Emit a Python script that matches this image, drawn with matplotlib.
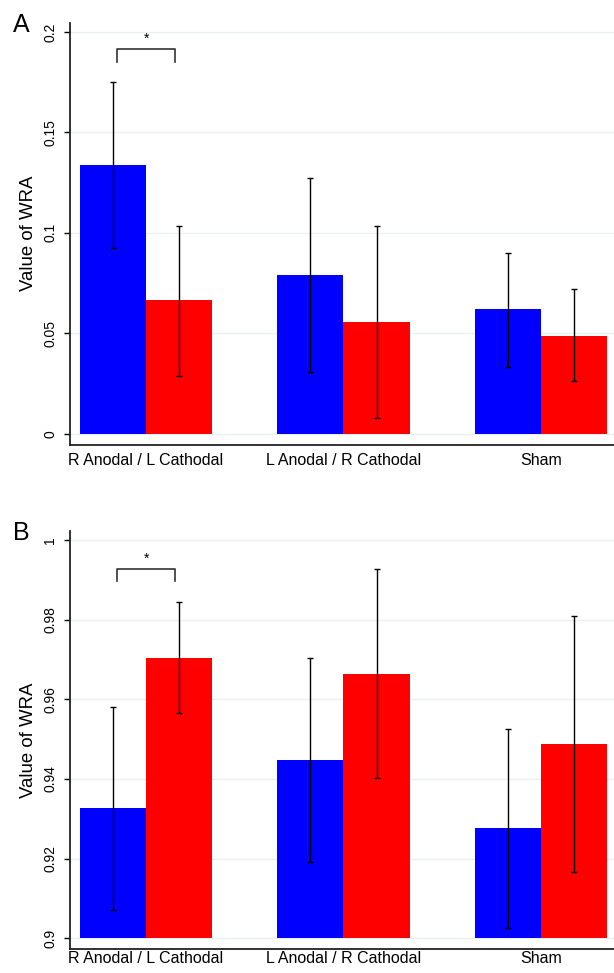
import numpy as np
import matplotlib
matplotlib.use('Agg')
import matplotlib.pyplot as plt

plt.rcParams['font.family'] = ['Liberation Sans', 'DejaVu Sans']

groups = ['R Anodal / L Cathodal', 'L Anodal / R Cathodal', 'Sham']

# панель A
a_blue = [0.1338, 0.0790, 0.0620]
a_red = [0.0665, 0.0559, 0.0489]
a_blue_lo = [0.0924, 0.0307, 0.0332]
a_blue_hi = [0.1751, 0.1274, 0.0900]
a_red_lo = [0.0287, 0.0081, 0.0264]
a_red_hi = [0.1036, 0.1036, 0.0720]
a_ticks = [0, 0.05, 0.1, 0.15, 0.2]
a_ticklabels = ['0', '0.05', '0.1', '0.15', '0.2']

# панель B
b_blue = [0.9326, 0.9447, 0.9276]
b_red = [0.9703, 0.9663, 0.9488]
b_blue_lo = [0.9072, 0.9191, 0.9025]
b_blue_hi = [0.9581, 0.9703, 0.9526]
b_red_lo = [0.9565, 0.9401, 0.9166]
b_red_hi = [0.9844, 0.9928, 0.9809]
b_ticks = [0.9, 0.92, 0.94, 0.96, 0.98, 1.0]
b_ticklabels = ['0.9', '0.92', '0.94', '0.96', '0.98', '1']

BLUE = '#0000ff'
RED = '#ff0000'
GRID = '#e8f0f2'
W = 0.335


def panel(ax, blue, red, blo, bhi, rlo, rhi, base, ticks, ticklabels, ylim,
          bracket, letter, xpad=6):
    x = np.arange(len(groups))
    blue = np.array(blue)
    red = np.array(red)
    ax.bar(x - W, blue - base, W, bottom=base, align='edge', color=BLUE, zorder=2)
    ax.bar(x, red - base, W, bottom=base, align='edge', color=RED, zorder=2)
    ax.errorbar(x - W / 2, blue, yerr=[blue - np.array(blo), np.array(bhi) - blue],
                fmt='none', ecolor='black', elinewidth=1, capsize=2.2, capthick=1, zorder=3)
    ax.errorbar(x + W / 2, red, yerr=[red - np.array(rlo), np.array(rhi) - red],
                fmt='none', ecolor='black', elinewidth=1, capsize=2.2, capthick=1, zorder=3)

    ax.set_xlim(-0.385, 2.37)
    ax.set_ylim(*ylim)
    ax.set_yticks(ticks)
    ax.set_yticklabels(ticklabels, rotation=90, va='center', fontsize=10)
    ax.set_xticks(x)
    ax.set_xticklabels(groups, fontsize=11.5)
    ax.tick_params(axis='x', length=0, pad=xpad)
    ax.tick_params(axis='y', length=4, width=1, pad=5)
    ax.yaxis.grid(True, color=GRID, linewidth=1.0, zorder=0)
    ax.set_axisbelow(True)
    for s in ['top', 'right']:
        ax.spines[s].set_visible(False)
    for s in ['left', 'bottom']:
        ax.spines[s].set_linewidth(1.3)
        ax.spines[s].set_color('#222222')
    ax.set_ylabel('Value of WRA', fontsize=13.4, labelpad=5)

    y0, y1, ys = bracket
    ax.plot([-0.145, -0.145, 0.145, 0.145], [y0, y1, y1, y0], color='#333333', lw=1.2)
    ax.text(0, ys, '*', ha='center', va='center', fontsize=10)
    ax.text(-0.105, 0.995, letter, transform=ax.transAxes, fontsize=18,
            ha='left', va='center')


fig = plt.figure(figsize=(6.14, 9.73), dpi=100)
ax1 = fig.add_axes([0.114, 0.5427, 0.886, 0.434])
ax2 = fig.add_axes([0.114, 0.0245, 0.886, 0.4301])

panel(ax1, a_blue, a_red, a_blue_lo, a_blue_hi, a_red_lo, a_red_hi, 0,
      a_ticks, a_ticklabels, (-0.0055, 0.2046), (0.185, 0.1917, 0.1965), 'A')
panel(ax2, b_blue, b_red, b_blue_lo, b_blue_hi, b_red_lo, b_red_hi, 0.9,
      b_ticks, b_ticklabels, (0.89725, 1.0023), (0.9896, 0.9928, 0.9953), 'B',
      xpad=1.5)

fig.savefig('out.png', dpi=100)
